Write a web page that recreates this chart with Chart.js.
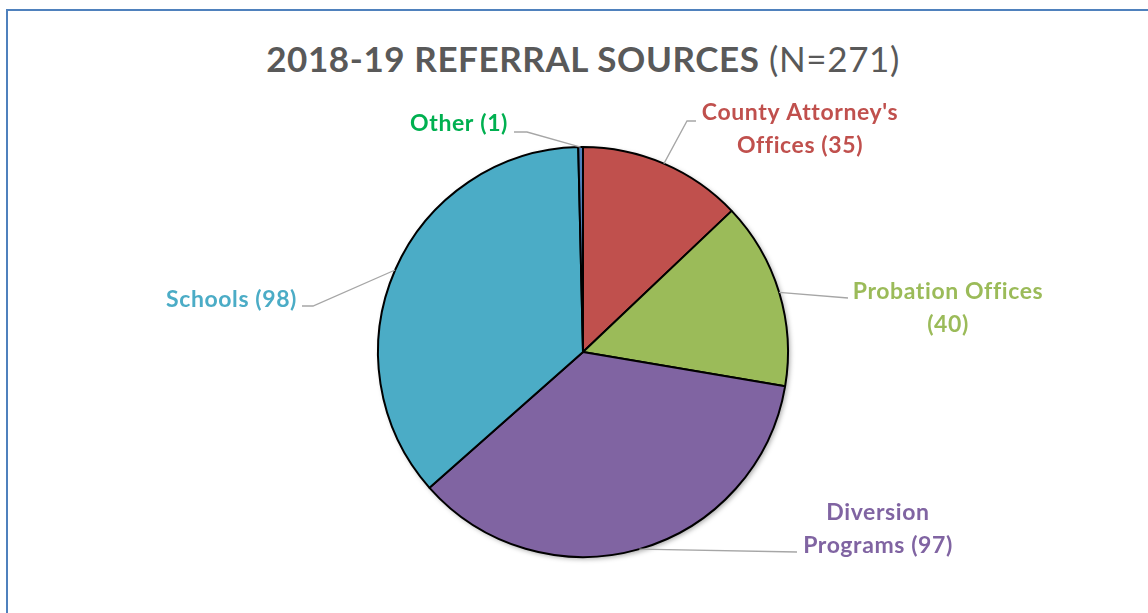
<!DOCTYPE html>
<html>
<head>
<meta charset="utf-8">
<script src="https://cdn.jsdelivr.net/npm/chart.js@4.4.1/dist/chart.umd.min.js"></script>
<style>
  html, body { margin: 0; padding: 0; background: #fff; }
  #wrap { position: relative; width: 1148px; height: 613px; overflow: hidden; }
  #frame { position: absolute; left: 6px; top: 9px; width: 1200px; height: 700px;
           border-left: 2px solid #4f81bd; border-top: 2px solid #4f81bd; }
  #titulo { position: absolute; left: 18px; width: 1130px; top: 37px; text-align: center;
            font-family: Lato, "Open Sans", sans-serif; font-size: 35px; color: #595959;
            letter-spacing: 0.6px; }
  #titulo b { font-weight: 700; }
  canvas { position: absolute; left: 0; top: 0; }
</style>
</head>
<body>
<div id="wrap">
  <div id="frame"></div>
  <div id="titulo"><b>2018-19 REFERRAL SOURCES</b> (N=271)</div>
  <canvas id="pie" width="1148" height="613"></canvas>
</div>
<script>
const fuentes = ["County Attorney's Offices", "Probation Offices", "Diversion Programs", "Schools", "Other"];
const cantidades = [35, 40, 97, 98, 1];
const colores = ["#c0504d", "#9bbb59", "#8064a2", "#4bacc6", "#4f81bd"];
const coloresTexto = ["#c0504d", "#9bbb59", "#8064a2", "#4bacc6", "#00b050"];
// lineas de cada etiqueta (texto partido como en el original)
const lineasEtiqueta = [
  ["County Attorney's", "Offices (35)"],
  ["Probation Offices", "(40)"],
  ["Diversion", "Programs (97)"],
  ["Schools (98)"],
  ["Other (1)"],
];

// posicion de etiquetas y codos de las lineas guia
const layoutEtiquetas = [
  { x: 800, y: 113, align: "center", codo: [687, 121], fin: [696, 121] },
  { x: 948, y: 292, align: "center", codo: null, fin: [848, 298] },
  { x: 878, y: 513, align: "center", codo: null, fin: [797, 552] },
  { x: 297, y: 300, align: "right", codo: [313, 306], fin: [302, 306] },
  { x: 508, y: 124, align: "right", codo: [527, 132], fin: [514, 132] },
];

const sombra = {
  id: "sombra",
  beforeDatasetsDraw(chart) {
    const arc = chart.getDatasetMeta(0).data[0];
    const ctx = chart.ctx;
    ctx.save();
    ctx.shadowColor = "rgba(0,0,0,0.35)";
    ctx.shadowBlur = 5;
    ctx.shadowOffsetX = 2;
    ctx.shadowOffsetY = 2;
    ctx.beginPath();
    ctx.arc(arc.x, arc.y, arc.outerRadius, 0, Math.PI * 2);
    ctx.fillStyle = "#fff";
    ctx.fill();
    ctx.restore();
  },
};

const etiquetas = {
  id: "etiquetas",
  afterDatasetsDraw(chart) {
    const ctx = chart.ctx;
    const meta = chart.getDatasetMeta(0);
    meta.data.forEach((arc, i) => {
      const lay = layoutEtiquetas[i];
      const mid = (arc.startAngle + arc.endAngle) / 2;
      const px = arc.x + Math.cos(mid) * arc.outerRadius;
      const py = arc.y + Math.sin(mid) * arc.outerRadius;
      ctx.save();
      ctx.strokeStyle = "#a6a6a6";
      ctx.lineWidth = 1.3;
      ctx.beginPath();
      ctx.moveTo(px, py);
      if (lay.codo) ctx.lineTo(lay.codo[0], lay.codo[1]);
      ctx.lineTo(lay.fin[0], lay.fin[1]);
      ctx.stroke();

      ctx.fillStyle = coloresTexto[i];
      ctx.font = "bold 23px Lato, 'Open Sans', sans-serif";
      ctx.letterSpacing = "0.6px";
      ctx.textAlign = lay.align;
      ctx.textBaseline = "middle";
      lineasEtiqueta[i].forEach((t, k) => {
        ctx.fillText(t, lay.x, lay.y + k * 33);
      });
      ctx.restore();
    });
  },
};

new Chart(document.getElementById("pie"), {
  type: "pie",
  data: {
    labels: fuentes,
    datasets: [{
      data: cantidades,
      backgroundColor: colores,
      borderColor: "#000",
      borderWidth: 2,
    }],
  },
  options: {
    responsive: false,
    animation: false,
    layout: { padding: { top: 146, bottom: 55, left: 18, right: 0 } },
    plugins: { legend: { display: false }, tooltip: { enabled: false } },
  },
  plugins: [sombra, etiquetas],
});
</script>
</body>
</html>
